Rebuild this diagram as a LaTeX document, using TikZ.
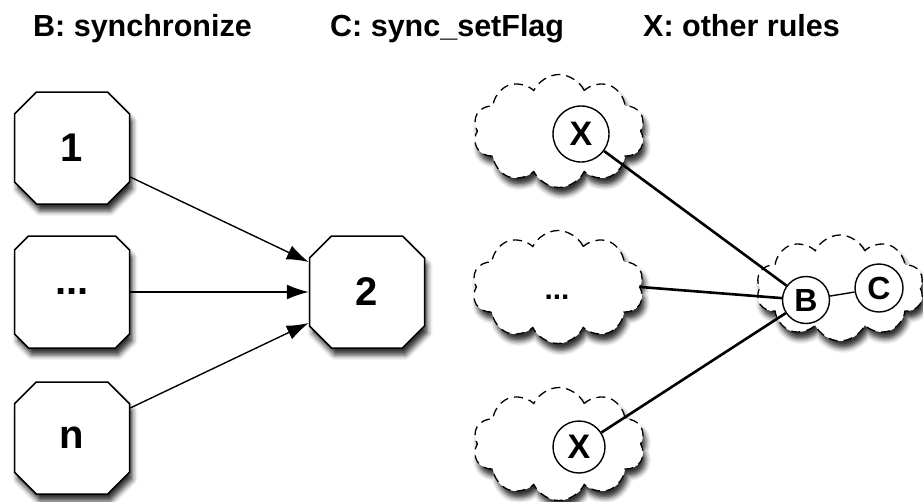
\documentclass[tikz,border=0pt]{standalone}
\usepackage{fontspec}
\setmainfont{Liberation Sans}
\usetikzlibrary{shapes.misc,shapes.symbols,shadows.blur,arrows.meta,calc}
\begin{document}
\begin{tikzpicture}[x=1pt,y=-1pt,
  softshadow/.style={blur shadow={shadow xshift=3pt,shadow yshift=-7pt,
      shadow blur radius=5pt,shadow opacity=80}},
  rulebox/.style={chamfered rectangle,chamfered rectangle xsep=11pt,
      chamfered rectangle ysep=11pt,
      draw,line width=1.5pt,fill=white,softshadow,inner sep=0pt,
      minimum width=115pt,minimum height=112pt,
      font=\bfseries\fontsize{40}{40}\selectfont},
  puff/.style={cloud,cloud puffs=10,cloud puff arc=130,aspect=1.5,
      draw,dash pattern=on 9pt off 6pt,line width=1.3pt,fill=white,
      softshadow,inner sep=0pt,minimum width=172pt,minimum height=113pt},
  rulecirc/.style={circle,draw,line width=1.4pt,fill=white,inner sep=0pt,
      font=\bfseries\fontsize{32}{32}\selectfont},
  dots/.style={font=\bfseries\fontsize{30}{30}\selectfont,inner sep=0pt},
  feed/.style={line width=1.4pt,-{Latex[length=22pt,width=15pt]}},
  link/.style={line width=2.6pt},
  legend/.style={anchor=base west,inner sep=0pt,
      font=\bfseries\fontsize{30.5}{30.5}\selectfont}]
\useasboundingbox (0,0) rectangle (923,501);

% legend row
\node[legend] (lb) at (33,36) {B: synchronize};
\node[legend] (lc) at (330,36) {C: sync\_setFlag};
\node[legend] (lx) at (643,36) {X: other rules};

% left part: n predecessors feeding one successor
\node[rulebox] (b1) at (72,148) {1};
\node[rulebox] (bd) at (72,292) {...};
\node[rulebox] (bn) at (72,438) {n};
\node[rulebox] (b2) at (367,292) {2};

\draw[feed] ([yshift=-29pt]b1.east) -- ([yshift=30pt]b2.west);
\draw[feed] (bd.east) -- (b2.west);
\draw[feed] ([yshift=30pt]bn.east) -- ([yshift=-31pt]b2.west);

% right part: rule groups as clouds
\node[puff] (c1) at (559,131) {};
\node[puff] (c2) at (558,287) {};
\node[dots] (c2t) at (557,297) {...};
\node[puff] (c3) at (559,444) {};
\node[puff,minimum width=168pt,minimum height=106pt] (c4) at (840,288) {};

\node[rulecirc,minimum size=56pt,font=\bfseries\fontsize{34}{34}\selectfont] (x1) at (581,134) {X};
\node[rulecirc,minimum size=52pt,font=\bfseries\fontsize{34}{34}\selectfont] (x2) at (579,447) {X};
\node[rulecirc,minimum size=47pt] (rb) at (806,300) {B};
\node[rulecirc,minimum size=48pt] (rc) at (879,288) {C};

\draw[link] (x1) -- (rb);
\draw[link] (c2.east) -- (rb);
\draw[link] (x2) -- (rb);
\draw[line width=1.4pt] (rb) -- (rc);
\end{tikzpicture}
\end{document}
